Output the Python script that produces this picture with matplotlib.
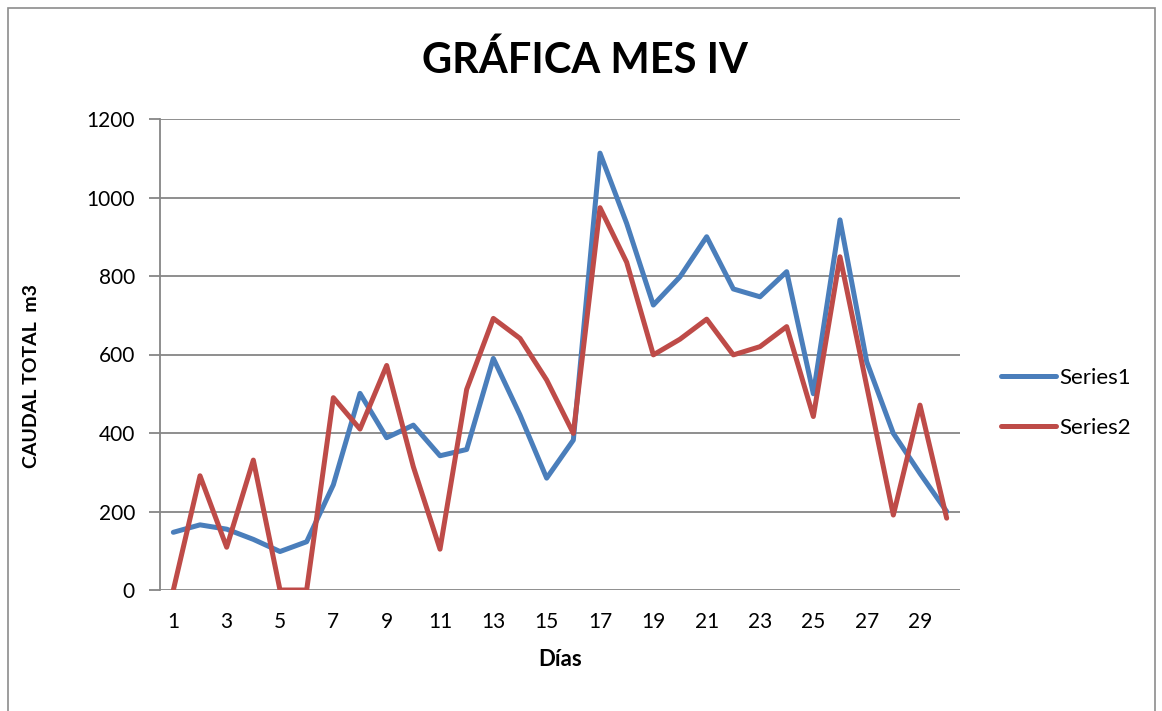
import numpy as np
import matplotlib.pyplot as plt
from matplotlib.patches import Rectangle

# data
days = list(range(1, 31))
series1 = [147, 166, 155, 129, 98, 123, 268, 501, 388, 420,
           342, 358, 590, 446, 285, 382, 1113, 934, 726, 798,
           900, 767, 747, 811, 500, 943, 582, 399, 297, 200]
series2 = [0, 291, 109, 331, 0, 0, 490, 410, 572, 314,
           104, 511, 692, 641, 535, 399, 974, 835, 599, 639,
           690, 599, 620, 671, 442, 849, 520, 191, 471, 183]
xtick_labels = [str(d) for d in days[::2]]

plt.rcParams['font.family'] = ['Lato', 'DejaVu Sans']

fig = plt.figure(figsize=(11.62, 7.11), dpi=100)

# outer chart border
fig.patches.append(Rectangle((8 / 1162, -0.1), 1147 / 1162, 1.1 - 8 / 711,
                             transform=fig.transFigure, fill=False,
                             edgecolor='#8c8c8c', linewidth=1.2))

ax = fig.add_axes([160 / 1162, 121 / 711, 800 / 1162, 471 / 711])

ax.plot(days, series1, color='#4A7EBB', linewidth=3.6, label='Series1',
        solid_joinstyle='round', solid_capstyle='round')
ax.plot(days, series2, color='#BE4B48', linewidth=3.6, label='Series2',
        solid_joinstyle='round', solid_capstyle='round')

ax.set_xlim(0.5, 30.5)
ax.set_ylim(0, 1200)
ax.set_yticks(np.arange(0, 1201, 200))
ax.set_xticks(days[::2])
ax.set_xticklabels(xtick_labels)

ax.grid(axis='y', color='#868686', linewidth=1.3)
ax.set_axisbelow(True)
for s in ['top', 'right', 'bottom']:
    ax.spines[s].set_visible(False)
ax.spines['left'].set_color('#868686')
ax.spines['left'].set_linewidth(1.3)
ax.tick_params(axis='y', length=8, width=1.3, color='#868686',
               labelsize=15, pad=10)
ax.tick_params(axis='x', length=0, labelsize=15, pad=16)

fig.text(585 / 1162, 1 - 60 / 711, 'GRÁFICA MES IV', fontsize=30,
         fontweight='bold', ha='center', va='center')
ax.set_xlabel('Días', fontsize=16, fontweight='bold', labelpad=12)
ax.set_ylabel('CAUDAL TOTAL  m3', fontsize=14, fontweight='bold')
ax.yaxis.set_label_coords(-0.150, 0.454)

ax.legend(loc='center left', bbox_to_anchor=(1.0265, 0.398), frameon=False,
          fontsize=16, handlelength=2.45, handletextpad=0.18, labelspacing=1.35)

plt.savefig('out.png', dpi=100)
